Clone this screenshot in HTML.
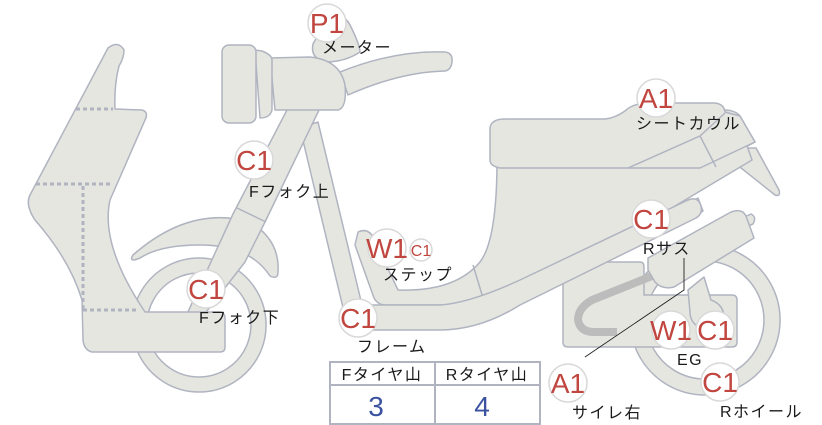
<!DOCTYPE html>
<html><head><meta charset="utf-8"><style>
html,body{margin:0;padding:0;background:#fff;}
svg{display:block;}
.s{fill:#e6e6e1;stroke:#b0b4c0;stroke-width:1.5;stroke-linejoin:round;}
.m{fill:#fff;stroke:#d8d8d8;stroke-width:1.5;}
.t{font-family:"Liberation Sans","Noto Sans CJK JP",sans-serif;fill:#c0463f;font-size:28px;}
.l{font-family:"Liberation Sans","Noto Sans CJK JP",sans-serif;fill:#1a1a1a;font-size:16px;letter-spacing:1.5px;}
</style></head><body>
<svg width="822" height="425" viewBox="0 0 822 425" xmlns="http://www.w3.org/2000/svg">
<path class="s" fill-rule="evenodd" d="M705,245a75,75 0 1,0 0.1,0Z M705,261a59,59 0 1,1 -0.1,0Z"/>
<path class="s" fill-rule="evenodd" d="M199,258a67,67 0 1,0 0.1,0Z M199,273a52,52 0 1,1 -0.1,0Z"/>
<path class="s" d="M724,110 Q735,110 740,116 L755,142 L744,148 L756,148 L779,190 Q781,197 775,195 L731,160 L700,170 Z"/>
<path class="s" d="M358,232 Q366,228 372,235 L398,290 Q455,292 480,262 Q497,240 497,160 L690,160 L745,140 L752,160 L660,215 L480,305 L385,305 Q378,305 374,298 L355,245 Z"/>
<path d="M473,265 L483,298" stroke="#b0b4c0" stroke-width="1.5" fill="none"/>
<path class="s" d="M490,128 Q491,119 505,119 L605,119 Q615,118 625,111 Q633,103 650,103 L715,103 Q724,104 725,112 L740,116 L755,142 L700,168 L660,168 L628,168 L500,168 Q490,166 490,160 Z"/>
<path d="M628,168 L700,136 L716,167 M700,136 L725,113" stroke="#b0b4c0" stroke-width="1.5" fill="none"/>
<path class="s" d="M568,262 L640,262 Q644,262 644,267 L644,295 L732,295 Q737,295 737,300 L737,342 Q737,347 732,347 L568,347 Q563,347 563,342 L563,267 Q563,262 568,262 Z"/>
<path d="M652,276 L592,300 Q578,308 578,320 Q580,331 592,332 L617,332" stroke="#bcbcbc" stroke-width="8" fill="none"/>
<path class="s" d="M688,290 L704,277 L711,300 Q725,305 724,320 Q720,332 705,330 Q690,325 690,312 Z"/>
<path class="s" d="M680,208 L698,198 L703,211 L686,222 Z"/>
<path class="s" d="M300,128 L318,122 L362,305 L440,305 Q470,303 520,280 L688,200 Q698,196 701,206 Q703,214 696,218 L520,305 Q480,330 440,330 L360,330 Q345,330 345,316 Z"/>
<path class="s" d="M742,218 L751,214 Q757,217 753,224 L748,226 Z" fill="#b8b8b8"/>
<path class="s" d="M648,258 L731,212 Q742,208 746,216 L754,238 L674,287 Q662,290 655,282 L648,270 Z"/>
<path class="s" d="M133,255 Q190,205 250,222 Q280,240 278,272 Q278,280 270,276 Q250,245 200,245 Q160,245 140,258 Q128,263 133,255 Z"/>
<path class="s" d="M288,108 L320,108 L265,222 L245,262 L200,320 L187,314 L233,214 Z"/>
<path d="M237,208 L266,222" stroke="#b0b4c0" stroke-width="1.5"/>
<path class="s" d="M108,48 Q118,40 124,50 Q124,58 119,66 Q114,85 115,109 L142,110 Q149,112 145,120 L110,200 Q100,245 145,312 L220,312 Q225,313 225,318 L225,347 Q225,352 220,352 L92,352 Q84,350 83,340 L82,300 Q70,260 35,220 Q25,205 30,195 Z"/>
<g stroke="#b0b4c0" stroke-width="3" stroke-dasharray="4 3" fill="none">
<path d="M76,109 L113,109"/><path d="M36,184 L110,184"/><path d="M83,186 L83,310"/><path d="M83,310 L137,310"/>
</g>
<path class="s" d="M340,72 Q395,50 445,52 Q453,53 452,62 Q451,70 445,71 Q400,72 348,95 Z"/>
<path class="s" d="M313,44 Q320,30 335,18 Q345,15 350,25 Q360,45 360,52 Q345,62 325,62 Q310,58 313,44 Z"/>
<path class="s" d="M270,58 L310,57 Q340,60 345,85 Q347,108 338,110 L275,110 Z"/>
<path class="s" d="M255,50 L262,51 Q272,55 272,60 L272,110 Q270,118 260,118 Z"/>
<rect class="s" x="222" y="45" width="34" height="78" rx="7"/>
<path d="M684,258 L684,290 L585,357" stroke="#222" stroke-width="0.9" fill="none"/>
<g>
<circle class="m" cx="327" cy="23" r="19"/><text class="t" x="327" y="33" text-anchor="middle">P1</text>
<circle class="m" cx="254" cy="160" r="19"/><text class="t" x="254" y="170" text-anchor="middle">C1</text>
<circle class="m" cx="387" cy="248" r="19"/><text class="t" x="387" y="258" text-anchor="middle">W1</text>
<circle class="m" cx="421" cy="250" r="11"/><text class="t" x="421" y="256" text-anchor="middle" style="font-size:16px">C1</text>
<circle class="m" cx="206" cy="289" r="19"/><text class="t" x="206" y="299" text-anchor="middle">C1</text>
<circle class="m" cx="358" cy="318" r="19"/><text class="t" x="358" y="328" text-anchor="middle">C1</text>
<circle class="m" cx="656" cy="98" r="19"/><text class="t" x="656" y="108" text-anchor="middle">A1</text>
<circle class="m" cx="651" cy="219" r="19"/><text class="t" x="651" y="229" text-anchor="middle">C1</text>
<circle class="m" cx="671" cy="330" r="19"/><text class="t" x="671" y="340" text-anchor="middle">W1</text>
<circle class="m" cx="715" cy="330" r="19"/><text class="t" x="715" y="340" text-anchor="middle">C1</text>
<circle class="m" cx="568" cy="383" r="19"/><text class="t" x="568" y="393" text-anchor="middle">A1</text>
<circle class="m" cx="720" cy="382" r="19"/><text class="t" x="720" y="392" text-anchor="middle">C1</text>
</g>
<text class="l" x="322" y="53">メーター</text>
<text class="l" x="249" y="197">Fフォク上</text>
<text class="l" x="383" y="280">ステップ</text>
<text class="l" x="199" y="323">Fフォク下</text>
<text class="l" x="357" y="352">フレーム</text>
<text class="l" x="636" y="129">シートカウル</text>
<text class="l" x="643" y="254">Rサス</text>
<text class="l" x="677" y="365">EG</text>
<text class="l" x="572" y="418">サイレ右</text>
<text class="l" x="720" y="417">Rホイール</text>
<rect x="330" y="362" width="210" height="62" fill="#fff" stroke="#b0b4c0" stroke-width="2"/>
<path d="M330,385 L540,385 M435,362 L435,424" stroke="#b0b4c0" stroke-width="2"/>
<text class="l" x="382" y="380" text-anchor="middle">Fタイヤ山</text>
<text class="l" x="487" y="380" text-anchor="middle">Rタイヤ山</text>
<text x="376" y="416" text-anchor="middle" style="font-family:'Liberation Sans',sans-serif;font-size:28px;fill:#3a52a0">3</text>
<text x="482" y="416" text-anchor="middle" style="font-family:'Liberation Sans',sans-serif;font-size:28px;fill:#3a52a0">4</text>
</svg>
</body></html>
